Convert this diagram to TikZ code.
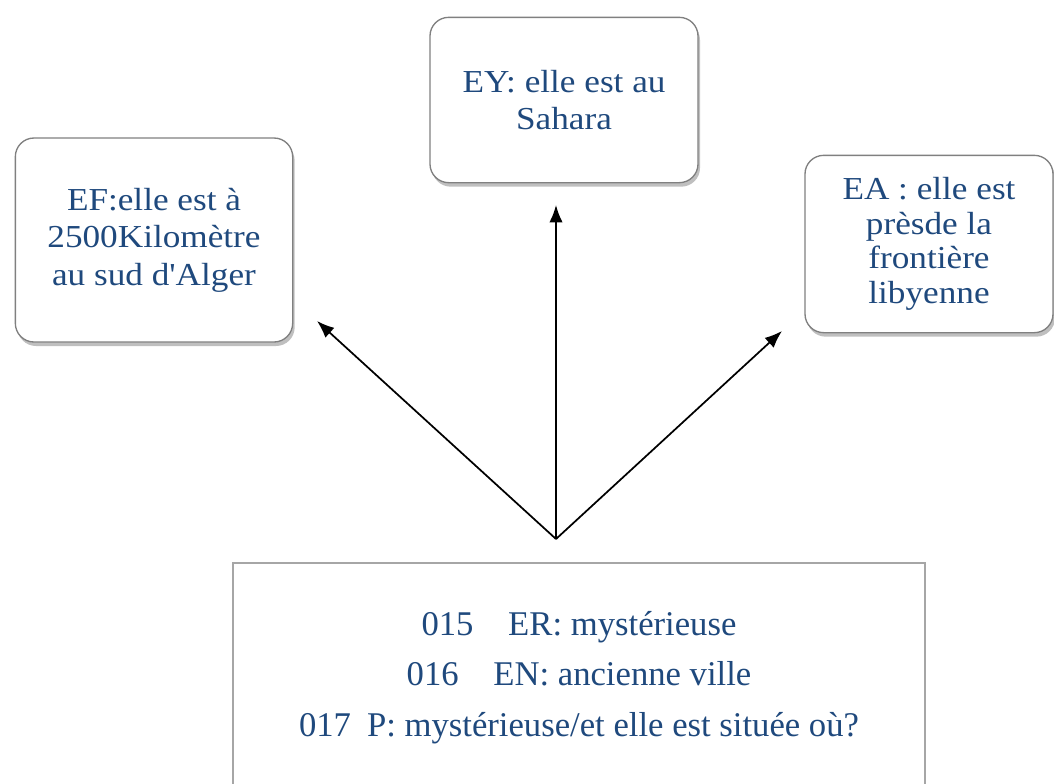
\documentclass[tikz,border=0pt]{standalone}
\usepackage{fontspec}
\setmainfont{Liberation Serif}[Ligatures=TeXOff]
\newfontfamily\bullefont{Liberation Serif}[Ligatures=TeXOff, FakeStretch=1.1]
\usetikzlibrary{arrows.meta, shadows}
\definecolor{bleutexte}{RGB}{31, 73, 125}
\definecolor{grisbord}{RGB}{128, 128, 128}
\definecolor{grisclair}{RGB}{166, 166, 166}

\begin{document}
\begin{tikzpicture}[x=0.75pt, y=-0.75pt,
  bulle/.style={draw=grisbord, line width=1pt, fill=white, rounded corners=14pt,
    align=center, text=bleutexte, font=\bullefont\fontsize{24}{28}\selectfont,
    drop shadow={shadow xshift=1.5pt, shadow yshift=-3pt, opacity=.5}},
  cadre/.style={draw=grisclair, line width=1.5pt, fill=white, inner sep=0pt,
    text=bleutexte, font=\fontsize{26}{38}\selectfont,
    drop shadow={shadow xshift=1pt, shadow yshift=-1pt, opacity=.3}},
  fleche/.style={draw, -{Latex[length=13pt, width=10pt]}, line width=1.3pt}]

  \clip (0,0) rectangle (1054,783);

  \draw[]
   (154,240) node[bulle, minimum width=208pt, minimum height=153pt](ef) {EF:elle est à\\2500Kilomètre\\au sud d'Alger}
   (564,100) node[bulle, minimum width=201pt, minimum height=124pt](ey) {EY: elle est au\\Sahara}
   (929,244) node[bulle, minimum width=186pt, minimum height=133pt,
     font=\bullefont\fontsize{24}{26}\selectfont](ea) {EA : elle est\\prèsde la\\frontière\\libyenne};

  \node[cadre, anchor=north] (enonce) at (579,562)
   {\parbox[c][180pt][t]{519pt}{\centering\vspace*{36pt}%
    015\hspace{26pt}ER: mystérieuse\\
    016\hspace{26pt}EN: ancienne ville\\
    017\hspace{12pt}P: mystérieuse/et elle est située où?}};

  %depart des fleches
  \coordinate (depart) at (556,539);
  \coordinate (pointeF) at (317,321);
  \coordinate (pointeY) at (556,205);
  \coordinate (pointeA) at (782,331);

  \path
   (depart) edge[fleche] (pointeF)
   (depart) edge[fleche] (pointeY)
   (depart) edge[fleche] (pointeA);
\end{tikzpicture}
\end{document}
